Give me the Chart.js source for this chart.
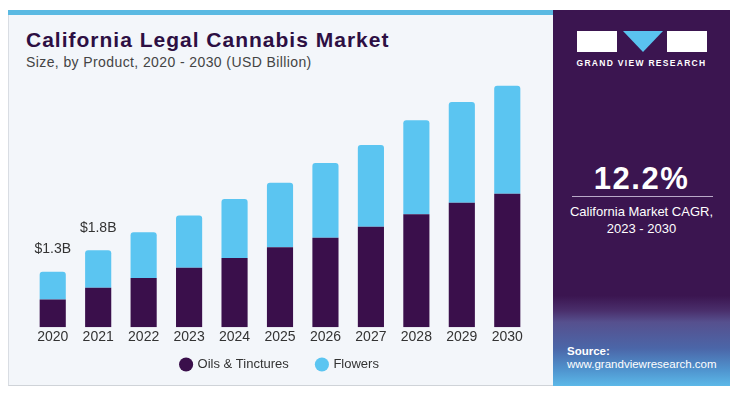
<!DOCTYPE html>
<html>
<head>
<meta charset="utf-8">
<script src="https://cdn.jsdelivr.net/npm/chart.js@4.4.1/dist/chart.umd.min.js"></script>
<style>
  html, body { margin: 0; padding: 0; background: #fff; width: 745px; height: 399px; overflow: hidden; }
  body { position: relative; font-family: "Liberation Sans", Arial, sans-serif; }
  .card { position: absolute; left: 8px; top: 10px; width: 545px; height: 376px; background: #f3f6fa;
          border-left: 1px solid #d9dde3; border-bottom: 1px solid #cfd3d8; box-sizing: border-box; }
  .topbar { position: absolute; left: 8px; top: 10px; width: 545px; height: 5px; background: #5ab9e2; }
  .title { position: absolute; left: 26px; top: 28px; font-size: 21px; font-weight: 900; color: #2d0f43;
           letter-spacing: 1px; white-space: nowrap; }
  .subtitle { position: absolute; left: 26px; top: 54px; font-size: 14px; color: #444; letter-spacing: 0.4px; white-space: nowrap; }
  .panel { position: absolute; left: 553px; top: 10px; width: 177px; height: 376px;
           background: linear-gradient(to bottom, #3b1550 0%, #3b1550 76%, #4a2f6c 80%, #56508e 83%, #4b66a8 90%, #5096d0 96%, #5cb8e8 100%); }
  .logo { position: absolute; top: 21px; left: 24px; width: 130px; height: 21px; }
  .logo .box { position: absolute; top: 0; width: 40px; height: 21px; background: #fff; }
  .logo .tri { position: absolute; left: 46px; top: 0; width: 0; height: 0;
               border-left: 20px solid transparent; border-right: 20px solid transparent; border-top: 21px solid #5ac3ef; }
  .brand { position: absolute; top: 48px; left: 0; width: 177px; text-align: center; color: #fff;
           font-size: 8.5px; font-weight: bold; letter-spacing: 1.3px; }
  .cagr { position: absolute; top: 151px; left: 0; width: 177px; text-align: center; color: #fff;
          font-size: 31px; font-weight: bold; letter-spacing: 1.5px; }
  .rule { position: absolute; top: 186px; left: 19px; width: 141px; height: 1px; background: #b9a9c8; }
  .cagrtxt { position: absolute; top: 193px; left: 0; width: 177px; text-align: center; color: #fff;
             font-size: 13px; line-height: 17px; }
  .src { position: absolute; top: 335px; left: 14px; color: #fff; font-size: 11.5px; line-height: 12.5px; }
  #wrap { position: absolute; left: 8px; top: 60px; width: 544px; height: 322px; }
</style>
</head>
<body>
<div class="card"></div>
<div class="topbar"></div>
<div class="title">California Legal Cannabis Market</div>
<div class="subtitle">Size, by Product, 2020 - 2030 (USD Billion)</div>
<div id="wrap"><canvas id="chart"></canvas></div>
<div class="panel">
  <div class="logo">
    <div class="box" style="left:0"></div>
    <div class="tri"></div>
    <div class="box" style="left:90px"></div>
  </div>
  <div class="brand">GRAND VIEW RESEARCH</div>
  <div class="cagr">12.2%</div>
  <div class="rule"></div>
  <div class="cagrtxt">California Market CAGR,<br>2023 - 2030</div>
  <div class="src"><b>Source:</b><br>www.grandviewresearch.com</div>
</div>
<script>
const years = ['2020', '2021', '2022', '2023', '2024', '2025', '2026', '2027', '2028', '2029', '2030']
const oilsTinctures = [0.65, 0.92, 1.15, 1.39, 1.62, 1.87, 2.09, 2.35, 2.64, 2.91, 3.12]
const flowers = [0.65, 0.88, 1.07, 1.22, 1.38, 1.51, 1.75, 1.91, 2.20, 2.36, 2.53]
const totalLabels = ['$1.3B', '$1.8B', '', '', '', '', '', '', '', '', '']

const fontFamily = '"Liberation Sans", Arial, sans-serif'

const totalsPlugin = {
    id: 'totals',
    afterDatasetsDraw(chart) {
        const ctx = chart.ctx
        const top = chart.getDatasetMeta(1)
        ctx.save()
        ctx.font = '14px ' + fontFamily
        ctx.fillStyle = '#333'
        ctx.textAlign = 'center'
        ctx.textBaseline = 'middle'
        top.data.forEach((bar, i) => {
            if (totalLabels[i]) ctx.fillText(totalLabels[i], bar.x, bar.y - 22)
        })
        ctx.restore()
    }
}

new Chart(document.getElementById('chart'), {
    type: 'bar',
    data: {
        labels: years,
        datasets: [
            { label: 'Oils & Tinctures', data: oilsTinctures, backgroundColor: '#3a0f4b' },
            { label: 'Flowers', data: flowers, backgroundColor: '#5bc5f1',
              borderRadius: { topLeft: 3, topRight: 3 }, borderSkipped: false }
        ]
    },
    options: {
        responsive: true,
        maintainAspectRatio: false,
        animation: false,
        categoryPercentage: 1,
        barPercentage: 0.575,
        layout: { padding: { left: 22, right: 22, top: 10.7, bottom: 1 } },
        plugins: {
            tooltip: { enabled: false },
            legend: {
                position: 'bottom',
                labels: {
                    usePointStyle: true,
                    pointStyle: 'circle',
                    boxWidth: 10,
                    boxHeight: 10,
                    padding: 10,
                    color: '#333',
                    font: { size: 13, family: fontFamily },
                    // wider gap between the two items than the vertical padding allows
                    generateLabels(chart) {
                        const items = Chart.defaults.plugins.legend.labels.generateLabels(chart)
                        items[0].text = items[0].text + '     '
                        return items
                    }
                }
            }
        },
        scales: {
            x: {
                stacked: true,
                grid: { display: false, drawTicks: false },
                border: { display: false },
                ticks: { color: '#333', padding: 2, font: { size: 14, family: fontFamily } }
            },
            y: {
                stacked: true,
                display: false,
                min: 0,
                max: 6
            }
        }
    },
    plugins: [totalsPlugin]
})
</script>
</body>
</html>
